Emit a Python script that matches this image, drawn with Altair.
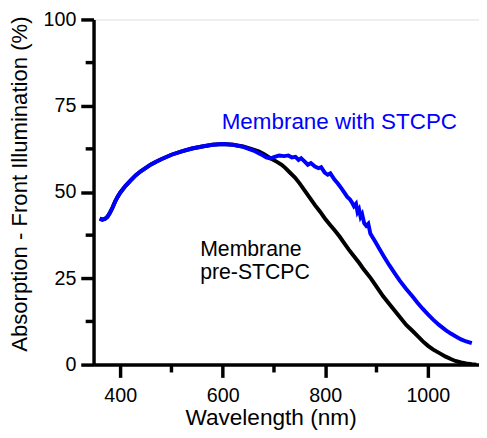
import altair as alt
import pandas as pd

# ---- data ----
blue_nm = [360, 365, 370, 375, 380, 385, 390, 395, 400, 410, 420, 430, 440, 450, 460, 470, 480,
           500, 520, 540, 560, 580, 600, 620, 640, 660, 675, 685, 693, 700, 710, 720, 728, 735,
           742, 748, 753, 760, 766, 772, 780, 787, 792, 799, 805, 810, 818, 825, 832, 838, 843,
           848, 852, 856, 860, 863, 866, 869, 872, 876, 880, 884, 888, 892, 896, 905, 915, 925,
           935, 945, 958, 970, 980, 990, 1000, 1010, 1022, 1035, 1045, 1054, 1065, 1075, 1086]
blue_abs = [42.3, 42.0, 42.2, 42.8, 44.0, 45.5, 47.2, 48.6, 49.8, 51.7, 53.3, 54.8, 56.0, 57.0, 58.0, 58.8, 59.5,
            60.8, 61.8, 62.6, 63.2, 63.7, 63.9, 63.7, 63.1, 62.0, 60.9, 60.0, 59.7, 60.1, 60.6, 60.4, 60.6, 60.0,
            60.2, 59.3, 59.8, 58.8, 57.9, 58.4, 57.4, 56.9, 57.2, 55.6, 55.0, 55.4, 53.6, 52.4, 51.0, 49.7, 48.6,
            47.9, 47.0, 45.9, 46.6, 44.2, 45.0, 42.8, 43.6, 41.0, 40.2, 40.8, 38.0, 37.0, 36.0, 33.7, 31.2, 28.8,
            26.6, 24.4, 21.9, 19.8, 17.9, 16.2, 14.6, 13.1, 11.5, 10.0, 9.0, 8.2, 7.3, 6.7, 6.2]

black_nm = [360, 365, 370, 375, 380, 385, 390, 395, 400, 410, 420, 430, 440, 450, 460, 470, 480,
            500, 520, 540, 560, 580, 600, 620, 640, 660, 670, 680, 693, 705, 715, 722, 730, 741,
            750, 760, 770, 780, 790, 799, 810, 818, 828, 837, 846, 856, 866, 875, 889, 900, 913,
            927, 940, 958, 970, 980, 990, 1000, 1010, 1022, 1035, 1045, 1054, 1065, 1075, 1086, 1095]
black_abs = [42.3, 42.0, 42.2, 42.8, 44.0, 45.5, 47.2, 48.6, 49.8, 51.7, 53.3, 54.8, 56.0, 57.0, 58.0, 58.8, 59.5,
             60.8, 61.8, 62.6, 63.2, 63.7, 63.9, 63.7, 63.2, 62.3, 61.8, 61.0, 59.8, 58.8, 57.9, 57.0, 55.8, 54.2,
             52.5, 50.4, 48.3, 46.2, 44.3, 42.4, 40.4, 39.0, 37.1, 35.2, 33.3, 31.4, 29.5, 27.6, 25.0, 22.6, 19.8,
             17.2, 14.8, 11.5, 9.8, 8.3, 6.8, 5.5, 4.4, 3.4, 2.3, 1.6, 1.05, 0.6, 0.3, 0.1, 0.0]

x_major = [400, 600, 800, 1000]
x_minor = [500, 700, 900]
y_major = [0, 25, 50, 75, 100]
y_minor = [12.5, 37.5, 62.5, 87.5]

label_text = ["Membrane with STCPC", "Membrane\npre-STCPC"]
label_nm = [598, 556]
label_abs = [68.4, 31.6]

# ---- layout ----
W, H = 392, 351
FONT = "Liberation Sans"

xs = alt.Scale(domain=[348, 1100], nice=False, zero=False)
ys = alt.Scale(domain=[0, 100], nice=False, zero=False)

xaxis = alt.Axis(values=x_major, format="d", title="Wavelength (nm)", grid=False,
                 tickSize=13, tickWidth=3.5, tickColor="black",
                 domainWidth=3.5, domainColor="black",
                 labelFont=FONT, labelFontSize=20, labelColor="black",
                 labelBaseline="alphabetic", labelPadding=25,
                 titleFont=FONT, titleFontSize=23, titleFontWeight="normal", titleColor="black",
                 titleX=180, titleY=61, titleAlign="center", titleBaseline="alphabetic")
yaxis = alt.Axis(values=y_major, format="d", title="Absorption - Front Illumination (%)", grid=False,
                 tickSize=13, tickWidth=3.5, tickColor="black",
                 domainWidth=3.5, domainColor="black",
                 labelFont=FONT, labelFontSize=20, labelColor="black", labelPadding=5,
                 titleFont=FONT, titleFontSize=22.5, titleFontWeight="normal", titleColor="black",
                 titleX=-68, titleY=167, titleAlign="center", titleBaseline="alphabetic", titleAngle=270)


def xe():
    return alt.X("nm:Q", scale=xs, axis=xaxis)


def ye():
    return alt.Y("a:Q", scale=ys, axis=yaxis)


df_black = pd.DataFrame({"nm": black_nm, "a": black_abs})
df_blue = pd.DataFrame({"nm": blue_nm, "a": blue_abs})
df_xmin = pd.DataFrame({"nm": x_minor})
df_ymin = pd.DataFrame({"a": y_minor})
df_lab = pd.DataFrame({"nm": label_nm, "a": label_abs, "t": label_text})

black = alt.Chart(df_black).mark_line(color="black", strokeWidth=4, clip=True).encode(x=xe(), y=ye())
blue = alt.Chart(df_blue).mark_line(color="#0000FF", strokeWidth=4, clip=True).encode(x=xe(), y=ye())

xminor = alt.Chart(df_xmin).mark_rule(color="black", strokeWidth=3.5).encode(
    x=xe(), y=alt.value(H), y2=alt.value(H + 8))
yminor = alt.Chart(df_ymin).mark_rule(color="black", strokeWidth=3.5).encode(
    y=ye(), x=alt.value(0), x2=alt.value(-8))

blue_lab = alt.Chart(df_lab.iloc[[0]]).mark_text(
    font=FONT, fontSize=22.8, color="#0000FF", align="left", baseline="alphabetic").encode(
    x=xe(), y=ye(), text="t:N")
black_lab = alt.Chart(df_lab.iloc[[1]]).mark_text(
    font=FONT, fontSize=21.6, color="black", align="left", baseline="alphabetic",
    lineBreak="\n", lineHeight=24).encode(
    x=xe(), y=ye(), text="t:N")

chart = alt.layer(black, blue, xminor, yminor, blue_lab, black_lab).properties(
    width=W, height=H,
    padding={"left": 87, "top": 8, "right": 0, "bottom": 70},
    autosize=alt.AutoSizeParams(type="none"),
).configure_view(stroke=None).configure(background="white")

chart.save("out.html", embed_options={"renderer": "svg", "actions": False})
